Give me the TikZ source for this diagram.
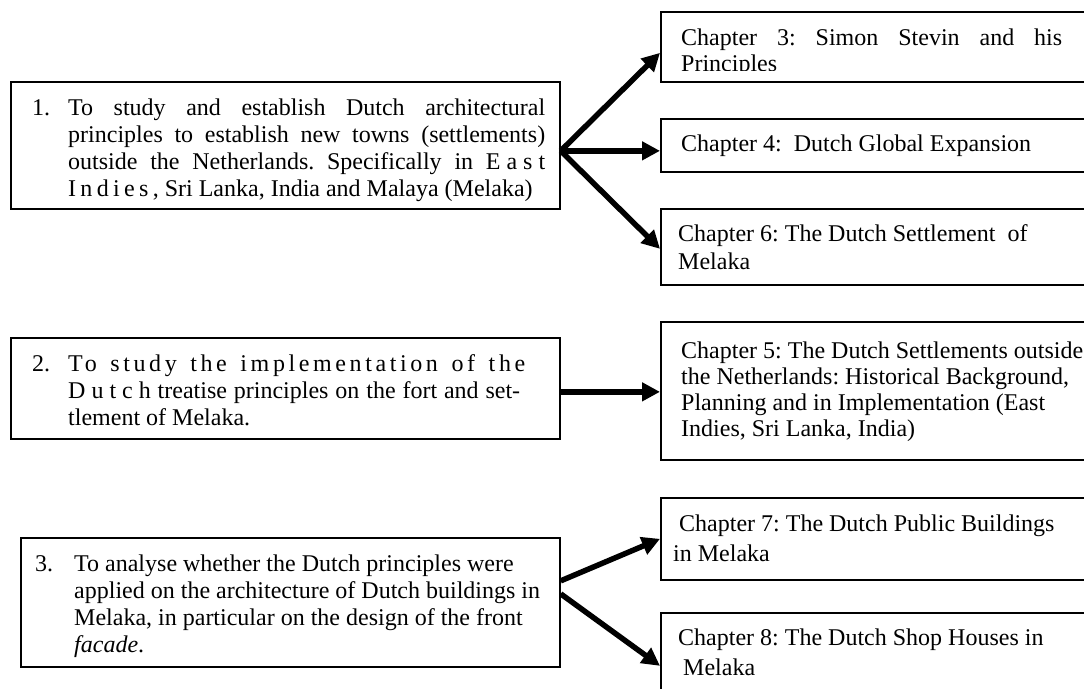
\documentclass[tikz,border=0pt]{standalone}
\usepackage{fontspec}
\setmainfont{Liberation Serif}
\usetikzlibrary{arrows.meta,calc}
\newcommand{\lsp}[1]{{\addfontfeature{LetterSpace=15}#1}}
\newcommand{\lspw}[1]{{\addfontfeature{LetterSpace=25}#1}}
\newcommand{\lspm}[1]{{\addfontfeature{LetterSpace=18}#1}}
\frenchspacing
\begin{document}
\begin{tikzpicture}[x=1pt,y=-1pt,
  box/.style={draw, line width=1.7pt, inner sep=0pt, anchor=north west},
  txt/.style={anchor=base west, inner sep=0pt, font=\fontsize{24}{27}\selectfont},
  arr/.style={line width=5.5pt, -{Triangle[length=18pt,width=18pt]}}]
\useasboundingbox (0,0) rectangle (1084,688);
\clip (0,0) rectangle (1084,688);
\fill[white] (0,0) rectangle (1084,688);

% left boxes
\node[box, minimum width=549pt, minimum height=127pt] (o1) at (10,81) {};
\node[box, minimum width=549pt, minimum height=101pt] (o2) at (10,337) {};
\node[box, minimum width=539pt, minimum height=129pt] (o3) at (20,537) {};

% right boxes
\node[box, minimum width=440pt, minimum height=70pt]  (c3) at (660,11) {};
\node[box, minimum width=440pt, minimum height=53pt]  (c4) at (660,118) {};
\node[box, minimum width=440pt, minimum height=76pt]  (c6) at (660,208) {};
\node[box, minimum width=440pt, minimum height=138pt] (c5) at (660,321) {};
\node[box, minimum width=440pt, minimum height=82pt]  (c7) at (660,497) {};
\node[box, minimum width=440pt, minimum height=106pt] (c8) at (660,612) {};

% texts of left boxes
\node[txt] (n1) at (32,115) {1.};
\node[txt] (t1) at (68,115) {\parbox[t]{477pt}{%
\makebox[477pt][s]{To study and establish Dutch architectural}\\
\makebox[477pt][s]{principles to establish new towns (settlements)}\\
\makebox[477pt][s]{outside the Netherlands. Specifically in \lspw{East}}\\
\lspm{Indies,} Sri Lanka, India and Malaya (Melaka)}};

\node[txt] (n2) at (32,371) {2.};
\node[txt] (t2) at (68,371) {\parbox[t]{460pt}{%
\makebox[457pt][s]{\lsp{To study the implementation of the}}\\
\makebox[452pt][s]{\lspw{Dutch} treatise principles on the fort and set-}\\
tlement of Melaka.}};

\node[txt] (n3) at (35,571) {3.};
\node[txt] (t3) at (74,571) {\parbox[t]{480pt}{%
To analyse whether the Dutch principles were\\
applied on the architecture of Dutch buildings in\\
Melaka, in particular on the design of the front\\
\textit{facade}.}};

% texts of right boxes
\begin{scope}
\clip (660,11) rectangle (1100,70);
\node[txt] (tc3) at (681,45) {\parbox[t]{400pt}{\fontsize{24}{26}\selectfont
\makebox[381pt][s]{Chapter 3: Simon Stevin and his}\\
Principles}};
\end{scope}
\node[txt] (tc4) at (681,151) {Chapter 4:\ \ Dutch Global Expansion};
\node[txt] (tc6) at (678,241) {\parbox[t]{400pt}{\fontsize{24}{28}\selectfont
Chapter 6: The Dutch Settlement\ \ of\\
Melaka}};
\node[txt] (tc5) at (681,358) {\parbox[t]{420pt}{\fontsize{24}{26}\selectfont
Chapter 5: The Dutch Settlements outside\\
the Netherlands: Historical Background,\\
Planning and in Implementation (East\\
Indies, Sri Lanka, India)}};
\node[txt] (tc7) at (673,531) {\parbox[t]{420pt}{\fontsize{24}{30}\selectfont
\hspace*{6pt}Chapter 7: The Dutch Public Buildings\\
in Melaka}};
\node[txt] (tc8) at (678,645) {\parbox[t]{420pt}{\fontsize{24}{30}\selectfont
Chapter 8: The Dutch Shop Houses in\\
\hspace*{5pt}Melaka}};

% arrows
\draw[arr] ($(o1.east)+(0,5.5)$) -- ($(c3.west)+(0,6)$);
\draw[arr] ($(o1.east)+(0,5.5)$) -- ($(c4.west)+(0,5.5)$);
\draw[arr] ($(o1.east)+(0,5.5)$) -- ($(c6.west)+(0,2)$);
\draw[arr] ($(o2.east)+(0,3.5)$) -- ($(c5.west)+(0,1)$);
\draw[arr] ($(o3.east)+(0,-21.5)$) -- (c7.west);
\draw[arr] ($(o3.east)+(0,-8.5)$) -- (c8.west);
\end{tikzpicture}
\end{document}
